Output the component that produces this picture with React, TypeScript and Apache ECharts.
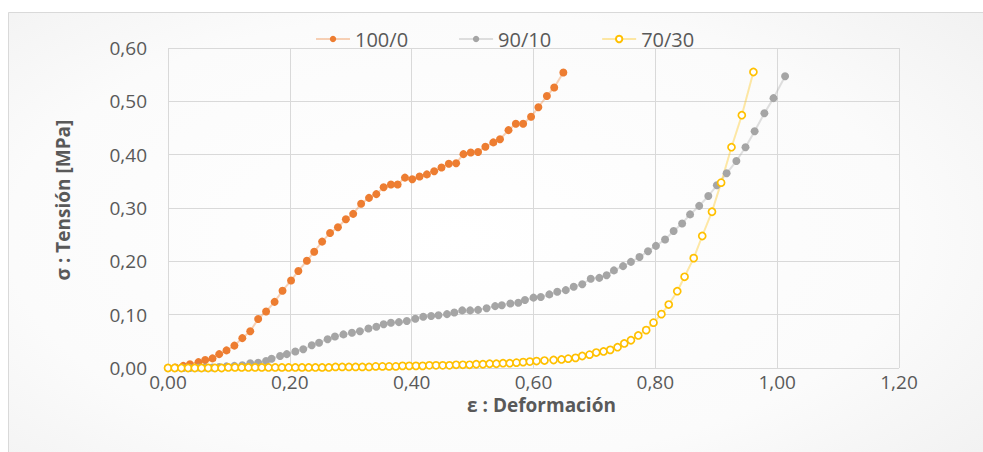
import React, { useEffect, useRef } from "react";
import * as echarts from "echarts";

const legendNames = ["100/0", "90/10", "70/30"];
const xTicks = { min: 0, max: 1.2, interval: 0.2 };
const yTicks = { min: 0, max: 0.6, interval: 0.1 };

const s100_0: [number, number][] = [
  [0.0, 0.0], [0.012, 0.001], [0.025, 0.004], [0.036, 0.007], [0.05, 0.011], [0.061, 0.015],
  [0.073, 0.018], [0.084, 0.026], [0.096, 0.033], [0.109, 0.042], [0.122, 0.056], [0.135, 0.069],
  [0.148, 0.092], [0.161, 0.106], [0.175, 0.124], [0.188, 0.145], [0.202, 0.164], [0.214, 0.182],
  [0.228, 0.201], [0.24, 0.218], [0.253, 0.237], [0.266, 0.253], [0.279, 0.264], [0.292, 0.279],
  [0.304, 0.289], [0.317, 0.308], [0.33, 0.319], [0.342, 0.326], [0.354, 0.339], [0.366, 0.344],
  [0.377, 0.344], [0.389, 0.357], [0.401, 0.354], [0.413, 0.359], [0.425, 0.363], [0.437, 0.369],
  [0.449, 0.376], [0.461, 0.383], [0.473, 0.384], [0.485, 0.401], [0.497, 0.404], [0.509, 0.405],
  [0.521, 0.415], [0.534, 0.423], [0.545, 0.429], [0.559, 0.446], [0.571, 0.458], [0.583, 0.458],
  [0.596, 0.471], [0.608, 0.489], [0.622, 0.51], [0.634, 0.526], [0.649, 0.554],
];

const s90_10: [number, number][] = [
  [0.0, 0.0], [0.012, 0.0], [0.025, 0.0], [0.036, 0.0], [0.05, 0.001], [0.061, 0.001],
  [0.073, 0.001], [0.084, 0.002], [0.096, 0.003], [0.109, 0.004], [0.122, 0.005], [0.135, 0.009],
  [0.148, 0.01], [0.161, 0.013], [0.17, 0.0175], [0.184, 0.0225], [0.195, 0.026], [0.209, 0.031],
  [0.222, 0.035], [0.236, 0.0425], [0.248, 0.0475], [0.262, 0.054], [0.274, 0.059], [0.288, 0.063],
  [0.302, 0.066], [0.315, 0.069], [0.329, 0.074], [0.342, 0.0775], [0.354, 0.082], [0.366, 0.085],
  [0.379, 0.086], [0.392, 0.088], [0.406, 0.0925], [0.419, 0.096], [0.432, 0.0975], [0.444, 0.099],
  [0.458, 0.101], [0.47, 0.104], [0.483, 0.108], [0.496, 0.108], [0.509, 0.109], [0.523, 0.112],
  [0.537, 0.116], [0.548, 0.1175], [0.562, 0.121], [0.575, 0.1225], [0.586, 0.1275], [0.6, 0.132],
  [0.612, 0.133], [0.626, 0.138], [0.639, 0.143], [0.653, 0.146], [0.666, 0.1525], [0.68, 0.157],
  [0.694, 0.1675], [0.708, 0.169], [0.72, 0.174], [0.732, 0.183], [0.747, 0.191], [0.76, 0.199],
  [0.774, 0.208], [0.788, 0.219], [0.801, 0.229], [0.816, 0.241], [0.83, 0.257], [0.844, 0.271],
  [0.857, 0.288], [0.872, 0.304], [0.887, 0.3225], [0.901, 0.3425], [0.917, 0.365], [0.933, 0.388],
  [0.948, 0.414], [0.963, 0.444], [0.979, 0.4775], [0.994, 0.506], [1.013, 0.547],
];

const s70_30: [number, number][] = [
  [0.0, 0.0], [0.011, 0.0], [0.022, 0.0], [0.033, 0.0], [0.044, 0.0], [0.055, 0.0],
  [0.066, 0.0], [0.077, 0.0], [0.088, 0.0], [0.099, 0.001], [0.11, 0.001], [0.121, 0.001],
  [0.132, 0.001], [0.143, 0.001], [0.154, 0.001], [0.165, 0.001], [0.176, 0.001], [0.187, 0.001],
  [0.198, 0.001], [0.209, 0.001], [0.22, 0.001], [0.231, 0.001], [0.242, 0.001], [0.253, 0.001],
  [0.264, 0.001], [0.275, 0.002], [0.286, 0.002], [0.297, 0.002], [0.308, 0.002], [0.319, 0.002],
  [0.33, 0.002], [0.341, 0.003], [0.352, 0.003], [0.363, 0.003], [0.374, 0.003], [0.385, 0.004],
  [0.396, 0.004], [0.407, 0.004], [0.418, 0.004], [0.429, 0.005], [0.44, 0.005], [0.451, 0.005],
  [0.462, 0.005], [0.473, 0.006], [0.484, 0.006], [0.495, 0.006], [0.506, 0.007], [0.517, 0.007],
  [0.528, 0.008], [0.539, 0.008], [0.55, 0.009], [0.561, 0.009], [0.572, 0.01], [0.583, 0.011],
  [0.594, 0.012], [0.605, 0.013], [0.618, 0.014], [0.633, 0.015], [0.646, 0.016], [0.657, 0.0175],
  [0.669, 0.019], [0.68, 0.0225], [0.692, 0.025], [0.703, 0.029], [0.715, 0.031], [0.726, 0.034],
  [0.738, 0.039], [0.749, 0.046], [0.76, 0.052], [0.772, 0.061], [0.785, 0.071], [0.797, 0.085],
  [0.81, 0.101], [0.822, 0.119], [0.836, 0.144], [0.848, 0.171], [0.863, 0.206], [0.877, 0.2475],
  [0.893, 0.293], [0.908, 0.3475], [0.925, 0.414], [0.942, 0.474], [0.961, 0.555],
];

const colors = ["#ED7D31", "#A5A5A5", "#FFC000"];
const FONT = "'Open Sans', 'Noto Sans', sans-serif";
const fmt = (v: number) => v.toFixed(2).replace(".", ",");

export default function App() {
  const ref = useRef<HTMLDivElement>(null);
  useEffect(() => {
    document.body.style.margin = "0";
    if (!ref.current) return;
    const chart = echarts.init(ref.current, undefined, { renderer: "svg" });
    const mkSeries = (i: number, data: [number, number][], hollow: boolean) => ({
      name: legendNames[i],
      type: "line",
      data,
      symbol: "circle",
      symbolSize: hollow ? 7 : 8,
      showSymbol: true,
      lineStyle: { color: colors[i], width: 2, opacity: 0.35 },
      itemStyle: hollow
        ? { color: "#ffffff", borderColor: colors[i], borderWidth: 1.7 }
        : { color: colors[i], borderWidth: 0 },
      emphasis: { disabled: true },
    });
    chart.setOption({
      animation: false,
      backgroundColor: "#ffffff",
      graphic: [
        {
          type: "rect",
          z: -10,
          silent: true,
          shape: { x: 8.5, y: 12.5, width: 1000, height: 500 },
          style: {
            fill: new echarts.graphic.RadialGradient(0.45, 0.45, 0.75, [
              { offset: 0, color: "#ffffff" },
              { offset: 0.6, color: "#fbfbfb" },
              { offset: 1, color: "#efefef" },
            ]),
            stroke: "#d9d9d9",
            lineWidth: 1,
          },
        },
      ],
      legend: {
        top: 24,
        left: 310,
        itemWidth: 34,
        itemHeight: 8,
        itemGap: 50,
        textStyle: { color: "#595959", fontSize: 20, fontFamily: FONT },
        data: legendNames,
      },
      grid: { left: 168, right: 84, top: 48, bottom: 84, containLabel: false },
      xAxis: {
        type: "value",
        min: xTicks.min,
        max: xTicks.max,
        interval: xTicks.interval,
        name: "ε : Deformación",
        nameLocation: "middle",
        nameGap: 23,
        nameTextStyle: {
          color: "#595959",
          fontSize: 19,
          fontWeight: "bold",
          fontFamily: FONT,
          padding: [0, 0, 0, 16],
        },
        axisLine: { show: false },
        axisTick: { show: false },
        axisLabel: { color: "#595959", fontSize: 19, fontFamily: FONT, margin: 4, formatter: fmt },
        splitLine: { show: true, lineStyle: { color: "#d9d9d9", width: 1 } },
      },
      yAxis: {
        type: "value",
        min: yTicks.min,
        max: yTicks.max,
        interval: yTicks.interval,
        name: "σ : Tensión [MPa]",
        nameLocation: "middle",
        nameGap: 96,
        nameTextStyle: {
          color: "#595959",
          fontSize: 19,
          fontWeight: "bold",
          fontFamily: FONT,
          padding: [0, 0, 0, 16],
        },
        axisLine: { show: false },
        axisTick: { show: false },
        axisLabel: { color: "#595959", fontSize: 19, fontFamily: FONT, margin: 21, formatter: fmt },
        splitLine: { show: true, lineStyle: { color: "#d9d9d9", width: 1 } },
      },
      series: [mkSeries(0, s100_0, false), mkSeries(1, s90_10, false), mkSeries(2, s70_30, true)],
    });
    return () => chart.dispose();
  }, []);
  return <div ref={ref} style={{ width: 983, height: 452 }} />;
}
